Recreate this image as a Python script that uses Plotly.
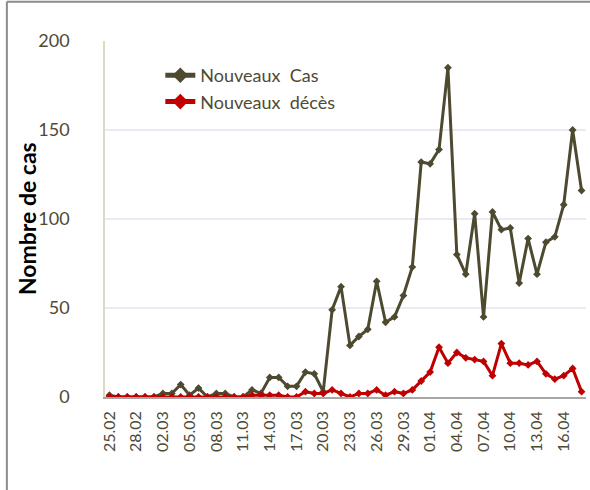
import plotly.graph_objects as go

# Dates (25.02 -> 18.04, 2020)
dates = ["25.02", "26.02", "27.02", "28.02", "29.02", "01.03", "02.03", "03.03", "04.03",
         "05.03", "06.03", "07.03", "08.03", "09.03", "10.03", "11.03", "12.03", "13.03",
         "14.03", "15.03", "16.03", "17.03", "18.03", "19.03", "20.03", "21.03", "22.03",
         "23.03", "24.03", "25.03", "26.03", "27.03", "28.03", "29.03", "30.03", "31.03",
         "01.04", "02.04", "03.04", "04.04", "05.04", "06.04", "07.04", "08.04", "09.04",
         "10.04", "11.04", "12.04", "13.04", "14.04", "15.04", "16.04", "17.04", "18.04"]

nouveaux_cas = [1, 0, 0, 0, 0, 0, 2, 2, 7, 1, 5, 0, 2, 2, 0, 0, 4, 2,
                11, 11, 6, 6, 14, 13, 3, 49, 62, 29, 34, 38, 65, 42, 45, 57, 73, 132,
                131, 139, 185, 80, 69, 103, 45, 104, 94, 95, 64, 89, 69, 87, 90, 108, 150, 116]

nouveaux_deces = [0, 0, 0, 0, 0, 0, 0, 0, 0, 0, 0, 0, 0, 0, 0, 0, 1, 1,
                  1, 1, 0, 0, 3, 2, 2, 4, 2, 0, 2, 2, 4, 1, 3, 2, 4, 9,
                  14, 28, 19, 25, 22, 21, 20, 12, 30, 19, 19, 18, 20, 13, 10, 12, 16, 3]

x = list(range(len(dates)))
tick_pos = x[::3]
tick_txt = dates[::3]

txt_col = "#4f4a34"
font = "Lato, 'Noto Sans', sans-serif"

fig = go.Figure()
fig.add_trace(go.Scatter(
    x=x, y=nouveaux_cas, mode="lines+markers", name="Nouveaux\u00a0 Cas",
    line=dict(color="#4d4a30", width=3),
    marker=dict(symbol="diamond", size=6, color="#4d4a30"),
))
fig.add_trace(go.Scatter(
    x=x, y=nouveaux_deces, mode="lines+markers", name="Nouveaux\u00a0 décès",
    line=dict(color="#c00000", width=3),
    marker=dict(symbol="diamond", size=6, color="#c00000"),
))

fig.update_layout(
    width=590, height=490,
    margin=dict(l=105, r=4, t=41, b=93),
    paper_bgcolor="white", plot_bgcolor="white",
    font=dict(family=font, color=txt_col),
    showlegend=True,
    legend=dict(x=0.115, y=0.955, xanchor="left", yanchor="top",
                font=dict(size=18, color=txt_col), bgcolor="rgba(0,0,0,0)",
                tracegroupgap=2, itemsizing="constant"),
    xaxis=dict(range=[-0.5, 53.5], tickvals=tick_pos, ticktext=tick_txt,
               tickangle=-90, tickfont=dict(size=16, color=txt_col),
               showgrid=False, zeroline=False, showline=True,
               linecolor="#a6a6a6", linewidth=1.5, ticks="", ticklabelstandoff=6),
    yaxis=dict(range=[0, 200], tickvals=[0, 50, 100, 150, 200],
               tickfont=dict(size=18, color=txt_col),
               showgrid=True, gridcolor="#ebe9f4", gridwidth=1.5,
               zeroline=False, showline=True, linecolor="#dcd9c0", linewidth=1.5,
               ticks="", ticklabelstandoff=30),
    annotations=[dict(text="<b>Nombre de cas</b>", textangle=-90, x=-0.162, y=0.5,
                      xref="paper", yref="paper", xanchor="center", yanchor="middle",
                      showarrow=False,
                      font=dict(size=23, color="black", family=font))],
    shapes=[
        dict(type="line", xref="paper", yref="paper", x0=-0.204, x1=-0.204,
             y0=-0.3, y1=1.11, line=dict(color="#8c8c8c", width=2)),
        dict(type="line", xref="paper", yref="paper", x0=-0.204, x1=1.01,
             y0=1.11, y1=1.11, line=dict(color="#8c8c8c", width=2)),
    ],
)

fig.write_html("out.html", config={"displayModeBar": False},
               post_script="document.body.style.margin='0';")
